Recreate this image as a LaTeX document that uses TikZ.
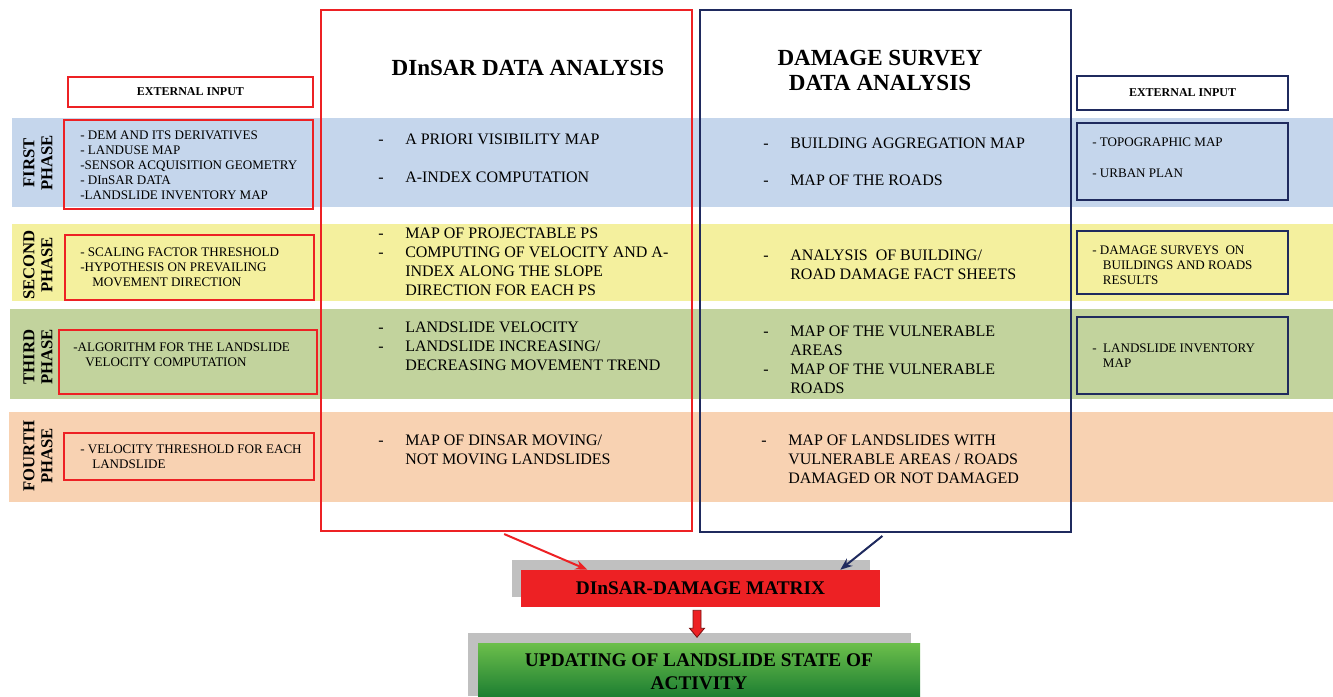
\documentclass[tikz,border=0pt]{standalone}
\usepackage{fontspec}
\setmainfont{Liberation Serif}
\usepackage{tikz}
\usetikzlibrary{arrows.meta,fit}
\definecolor{inred}{HTML}{ED2124}
\definecolor{innavy}{HTML}{1F2A5E}
\definecolor{bandblue}{HTML}{C5D6EC}
\definecolor{bandyellow}{HTML}{F4F09E}
\definecolor{bandgreen}{HTML}{C2D39D}
\definecolor{bandorange}{HTML}{F8D2B2}
\definecolor{shadowgray}{HTML}{C0C0C0}
\definecolor{darkred}{HTML}{7A1010}
\definecolor{greentop}{HTML}{6CBF4B}
\definecolor{greenbot}{HTML}{1E7F32}
\newcommand{\bodyfont}{\fontsize{12}{14.25}\selectfont}
\newcommand{\smallfont}{\fontsize{9.8}{11.25}\selectfont}
\newcommand{\headfont}{\fontsize{9}{11}\selectfont\bfseries}
\newcommand{\phasefont}{\fontsize{12.5}{13.5}\selectfont\bfseries}
\newcommand{\titlefont}{\fontsize{17.3}{18.75}\selectfont\bfseries}
\newcommand{\boxfont}{\fontsize{14.5}{17.25}\selectfont\bfseries}
\newcommand{\dsh}{\makebox[20.25pt][l]{-}}
\newcommand{\ind}{\hspace*{20.25pt}}

\begin{document}
\begin{tikzpicture}[x=0.75pt,y=-0.75pt,
    band/.style={inner sep=0pt,draw=none},
    redbox/.style={draw=inred,line width=2.2pt,inner sep=0pt},
    navybox/.style={draw=innavy,line width=2.2pt,inner sep=0pt},
    txt/.style={anchor=base west,align=left,inner sep=0pt,font=\bodyfont},
    small/.style={txt,font=\smallfont},
    phase/.style={rotate=90,align=center,inner sep=0pt,font=\phasefont}]
    \useasboundingbox (0,0) rectangle (1333,696);

    \node[band,fill=bandblue,fit={(12,118) (1333,207)}] (b1) {};
    \node[band,fill=bandyellow,fit={(12,224) (1333,301)}] (b2) {};
    \node[band,fill=bandgreen,fit={(10,309) (1333,399)}] (b3) {};
    \node[band,fill=bandorange,fit={(9,412) (1333,502)}] (b4) {};

    \node[redbox,fit={(321,10) (692,531)}] (dinsar) {};
    \node[navybox,fit={(700,10) (1071,532)}] (survey) {};

    \node[font=\titlefont] (t1) at (528,68) {DInSAR DATA ANALYSIS};
    \node[font=\titlefont,align=center] (t2) at (880,70) {DAMAGE SURVEY\\DATA ANALYSIS};

    \node[phase] (p1) at (38,163) {FIRST\\PHASE};
    \node[phase] (p2) at (38,265) {SECOND\\PHASE};
    \node[phase] (p3) at (38,357) {THIRD\\PHASE};
    \node[phase] (p4) at (38,456) {FOURTH\\PHASE};

    \node[redbox,fill=white,fit={(68,77) (313,107)}] (exl) {};
    \node[font=\headfont] (exlt) at (exl.center) {EXTERNAL INPUT};
    \node[redbox,fit={(64,120) (313,209)}] (l1) {};
    \node[redbox,fit={(65,235) (314,300)}] (l2) {};
    \node[redbox,fit={(59,330) (317,394)}] (l3) {};
    \node[redbox,fit={(64,433) (314,480)}] (l4) {};

    \node[navybox,fill=white,fit={(1077,76) (1288,110)}] (exr) {};
    \node[font=\headfont] (exrt) at (exr.center) {EXTERNAL INPUT};
    \node[navybox,fit={(1077,123) (1288,200)}] (r1) {};
    \node[navybox,fit={(1077,231) (1288,294)}] (r2) {};
    \node[navybox,fit={(1077,317) (1288,394)}] (r3) {};

    \node[small] (l1t) at (80,199) {- DEM AND ITS DERIVATIVES\\- LANDUSE MAP\\-SENSOR ACQUISITION GEOMETRY\\- DInSAR DATA\\-LANDSLIDE INVENTORY MAP};
    \node[small] (l2t) at (80,286) {- SCALING FACTOR THRESHOLD\\-HYPOTHESIS ON PREVAILING\\\hspace*{9pt}MOVEMENT DIRECTION};
    \node[small] (l3t) at (73,366) {-ALGORITHM FOR THE LANDSLIDE\\\hspace*{9pt}VELOCITY COMPUTATION};
    \node[small] (l4t) at (80,468) {- VELOCITY THRESHOLD FOR EACH\\\hspace*{9pt}LANDSLIDE};

    \node[small] (r1t) at (1092,177) {- TOPOGRAPHIC MAP\\[12pt]- URBAN PLAN};
    \node[small] (r2t) at (1092,284) {- DAMAGE SURVEYS\ \ ON\\\hspace*{8pt}BUILDINGS AND ROADS\\\hspace*{8pt}RESULTS};
    \node[small] (r3t) at (1092,367) {-\ \ LANDSLIDE INVENTORY\\\hspace*{8pt}MAP};

    \node[txt] (d1) at (378,182) {\dsh A PRIORI VISIBILITY MAP\\[14.25pt]\dsh A-INDEX COMPUTATION};
    \node[txt] (d2) at (378,295) {\dsh MAP OF PROJECTABLE PS\\\dsh COMPUTING OF VELOCITY AND A-\\\ind INDEX ALONG THE SLOPE\\\ind DIRECTION FOR EACH PS};
    \node[txt] (d3) at (378,370) {\dsh LANDSLIDE VELOCITY\\\dsh LANDSLIDE INCREASING/\\\ind DECREASING MOVEMENT TREND};
    \node[txt] (d4) at (378,464) {\dsh MAP OF DINSAR MOVING/\\\ind NOT MOVING LANDSLIDES};

    \node[txt] (s1) at (763,185) {\dsh BUILDING AGGREGATION MAP\\[13.5pt]\dsh MAP OF THE ROADS};
    \node[txt] (s2) at (763,279) {\dsh ANALYSIS\ \ OF BUILDING/\\\ind ROAD DAMAGE FACT SHEETS};
    \node[txt] (s3) at (763,393) {\dsh MAP OF THE VULNERABLE\\\ind AREAS\\\dsh MAP OF THE VULNERABLE\\\ind ROADS};
    \node[txt] (s4) at (761,483) {\dsh MAP OF LANDSLIDES WITH\\\ind VULNERABLE AREAS / ROADS\\\ind DAMAGED OR NOT DAMAGED};

    \fill[shadowgray] (512,560) rectangle (870,597);
    \node[inner sep=0pt,fill=inred,fit={(521,570) (880,607)}] (dmat) {};
    \node[font=\boxfont] (dmatt) at (dmat.center) {DInSAR-DAMAGE MATRIX};
    \fill[shadowgray] (468,633) rectangle (911,696);
    \node[inner sep=0pt,top color=greentop,bottom color=greenbot,fit={(478,643) (920,696)}] (update) {};
    \node[font=\boxfont,align=center] (updatet) at (699,671.5) {UPDATING OF LANDSLIDE STATE OF\\ACTIVITY};

    \draw[inred,line width=1.5pt,shorten <=3pt,-{Stealth[length=9pt,width=7pt]}] ([xshift=-4.5pt]dinsar.south) -- ([xshift=50pt]dmat.north west);
    \draw[innavy,line width=1.5pt,shorten <=3pt,-{Stealth[length=9pt,width=7pt]}] (survey.south) -- ([xshift=-30pt]dmat.north east);
    \draw[fill=inred,draw=darkred,line width=0.6pt,shift={(dmat.south)}] (-7.5,3) -- (0.5,3) -- (0.5,21) -- (4,21) -- (-3.5,30) -- (-11,21) -- (-7.5,21) -- cycle;
  \end{tikzpicture}
\end{document}
